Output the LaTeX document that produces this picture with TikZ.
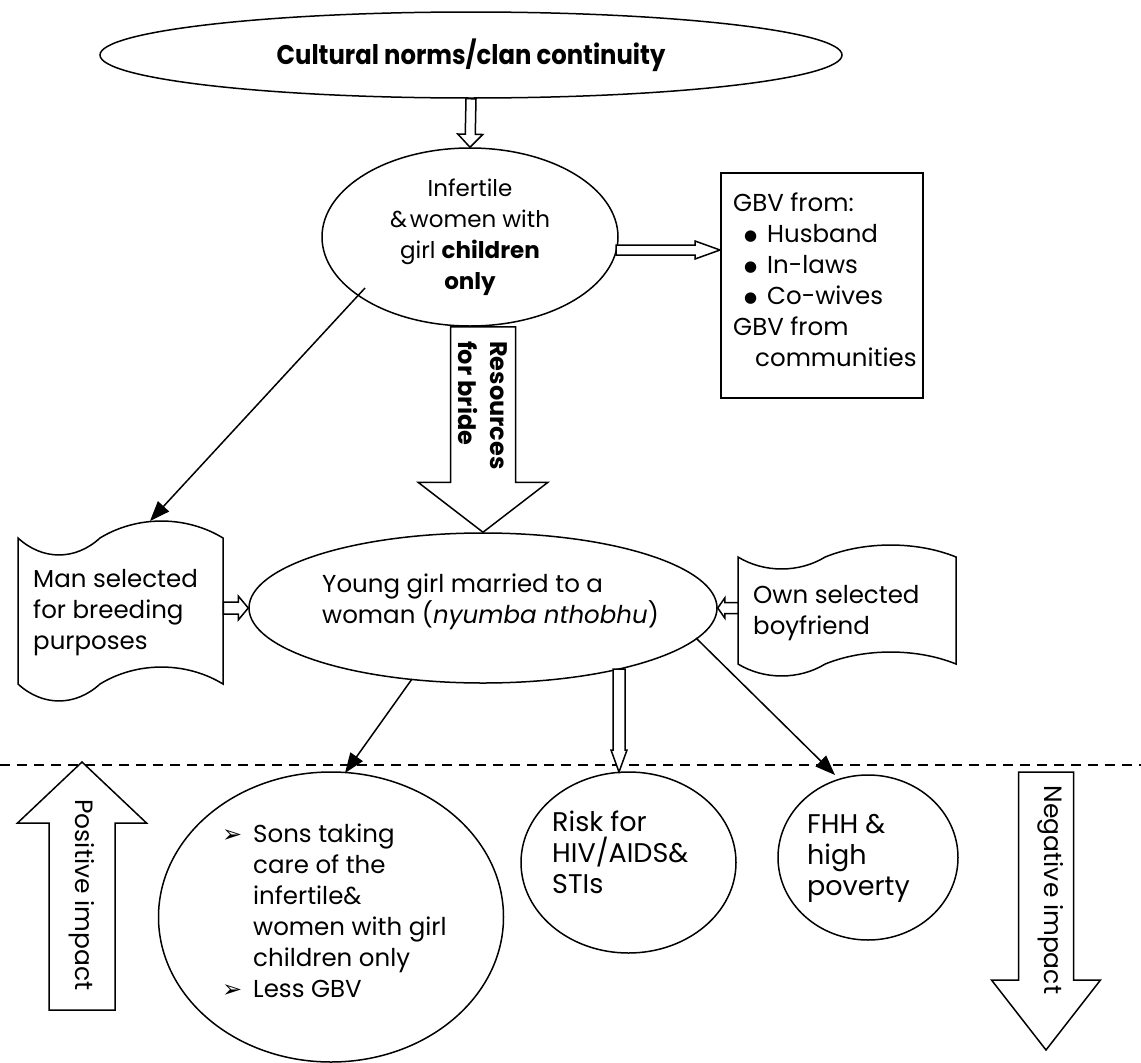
\documentclass[tikz,border=0pt]{standalone}
\usepackage{fontspec}
\setmainfont{Poppins}
\newfontfamily\titlefont{Poppins}[FakeStretch=0.9]
\newfontfamily\dejavu{DejaVu Sans}
\usetikzlibrary{shapes.geometric,calc,arrows.meta}

% punched-tape outline: x0, ytop, x1, ybottom, wave amplitude
\newcommand{\tapepath}[5]{%
  \pgfmathsetmacro\tapew{#3-#1}%
  \draw[shp] (#1,#2) .. controls ({#1+0.12*\tapew},{#2+1.33*#5}) and ({#1+0.28*\tapew},{#2+1.33*#5}) .. ({#1+0.4*\tapew},#2)
    .. controls ({#1+0.58*\tapew},{#2-1.33*#5}) and ({#1+0.82*\tapew},{#2-1.33*#5}) .. (#3,#2)
    -- (#3,#4) .. controls ({#1+0.82*\tapew},{#4-1.33*#5}) and ({#1+0.58*\tapew},{#4-1.33*#5}) .. ({#1+0.4*\tapew},#4)
    .. controls ({#1+0.28*\tapew},{#4+1.33*#5}) and ({#1+0.12*\tapew},{#4+1.33*#5}) .. (#1,#4) -- cycle;}

% outlined block arrow: start, tip, half shaft, half head, head length
\newcommand{\blockarrow}[5]{%
  \coordinate (ba-h) at ($(#2)!#5!(#1)$);
  \draw[shp, fill=white, line join=miter] ($(#1)!#3!90:(#2)$) -- ($(ba-h)!#3!90:(#2)$) -- ($(ba-h)!#4!90:(#2)$)
    -- (#2) -- ($(ba-h)!#4!-90:(#2)$) -- ($(ba-h)!#3!-90:(#2)$) -- ($(#1)!#3!-90:(#2)$) -- cycle;}

\newcommand{\gbvbullet}{\makebox[34pt][l]{\hspace*{11pt}\raisebox{2.5pt}{\dejavu\fontsize{15}{15}\selectfont ●}}}
\newcommand{\arrbullet}{\makebox[31pt][l]{\dejavu\fontsize{24}{24}\selectfont ➢}}

\tikzset{
  shp/.style={draw, line width=1.5pt},
  ell/.style={shp, ellipse, inner sep=0pt},
  body/.style={font=\fontsize{24.5}{31}\selectfont, inner sep=0pt, align=left},
  bigtext/.style={font=\fontsize{24.5}{31}\selectfont, inner sep=0pt, align=left},
  rftext/.style={font=\fontsize{27}{31}\selectfont, inner sep=0pt, align=left},
  sidetext/.style={font=\fontsize{25}{30}\selectfont, rotate=-90, inner sep=0pt},
  conn/.style={line width=1.5pt, -{Triangle[length=20pt,width=15pt]}},
  divider/.style={line width=1.5pt, dash pattern=on 10pt off 7pt},
}

\begin{document}
\begin{tikzpicture}[x=1pt, y=-1pt]
\fill[white] (0,0) rectangle (1141,1063);
\useasboundingbox (0,0) rectangle (1141,1063);

% ---------- shapes ----------
\node[ell, minimum width=742pt, minimum height=86pt, font=\titlefont\fontsize{27}{30}\selectfont\bfseries] (cult) at (471,55) {Cultural norms/clan continuity};

\node[ell, minimum width=296pt, minimum height=178pt, align=center, font=\fontsize{23}{31}\selectfont] (inf) at (470,237)
  {Infertile\\\&\kern3pt women with\\girl \textbf{children}\\\textbf{only}};

\node[shp, rectangle, minimum width=202pt, minimum height=225pt, anchor=north west] (gbv) at (720,172) {};
\node[body, anchor=north west] (gbvtxt) at (733,193)
  {GBV from:\\\gbvbullet Husband\\\gbvbullet In-laws\\\gbvbullet Co-wives\\GBV from\\\hspace*{22pt}communities};

\node[ell, minimum width=468pt, minimum height=150pt] (young) at (483,608) {};
\node[body, anchor=north west] (youngtxt) at (322,574) {Young girl married to a\\woman (\textit{nyumba nthobhu})};

\tapepath{18}{538}{223}{684}{17}
\node[minimum width=205pt, minimum height=146pt, anchor=north west] (man) at (18,538) {};
\node[body, anchor=north west] (mantxt) at (33,569) {Man selected\\for breeding\\purposes};

\tapepath{738}{557}{956}{664}{12}
\node[minimum width=218pt, minimum height=107pt, anchor=north west] (own) at (738,557) {};
\node[body, anchor=north west] (owntxt) at (753,585) {Own selected\\boyfriend};

\node[ell, minimum width=345pt, minimum height=290pt] (bigc) at (331,917) {};
\node[bigtext, anchor=north west] (bigtxt) at (222,824)
  {\arrbullet Sons taking\\\hspace*{31pt}care of the\\\hspace*{31pt}infertile\&\\\hspace*{31pt}women with girl\\\hspace*{31pt}children only\\\arrbullet Less GBV};

\node[ell, minimum width=215pt, minimum height=181pt] (risk) at (628.5,862.5) {};
\node[rftext, anchor=north west] (risktxt) at (552,811) {Risk for\\HIV/AIDS\&\\STIs};

\node[ell, minimum width=180pt, minimum height=165pt] (fhh) at (868,857.5) {};
\node[rftext, anchor=north west] (fhhtxt) at (807,814) {FHH \&\\high\\poverty};

% ---------- divider ----------
\coordinate (dl) at (0,765);
\coordinate (dr) at (1141,765);
\draw[divider] (dl) -- (dr);

% ---------- block arrows ----------
\blockarrow{cult.south}{inf.north}{5pt}{12.5pt}{13pt}

\coordinate (a1) at (616,250);
\coordinate (b1) at (gbv.west |- a1);
\blockarrow{a1}{b1}{5pt}{9pt}{25pt}

\coordinate (a2) at (young.north |- inf.south);
\blockarrow{a2}{young.north}{32.5pt}{65pt}{50pt}
\node[font=\fontsize{24}{32}\selectfont\bfseries, align=left, rotate=-90, anchor=north west, inner sep=0pt] (res) at (508,341) {Resources\\for bride};

\coordinate (a3) at (man.east |- young.west);
\blockarrow{a3}{young.west}{6pt}{12pt}{10pt}

\coordinate (a4) at (own.west |- young.east);
\blockarrow{a4}{young.east}{5.5pt}{10pt}{7pt}

\coordinate (a5) at (619,669);
\coordinate (b5) at (619,772);
\blockarrow{a5}{b5}{6pt}{8pt}{22pt}

\coordinate (p1) at (82,1010);
\coordinate (p2) at (82,762);
\blockarrow{p1}{p2}{33pt}{64.5pt}{61pt}
\node[sidetext] (pos) at (82,895) {Positive impact};

\coordinate (n1) at (1046,772);
\coordinate (n2) at (1046,1050);
\blockarrow{n1}{n2}{27.5pt}{54.5pt}{70pt}
\node[sidetext] (neg) at (1051,890) {Negative impact};

% ---------- line connectors ----------
\coordinate (s1) at (365,288);
\coordinate (t1) at (150,521);
\draw[conn] (s1) -- (t1);

\coordinate (s2) at (412,679);
\coordinate (t2) at (345,773);
\draw[conn] (s2) -- (t2);

\coordinate (s3) at (696,638);
\coordinate (t3) at (835,775);
\draw[conn] (s3) -- (t3);
\end{tikzpicture}
\end{document}
